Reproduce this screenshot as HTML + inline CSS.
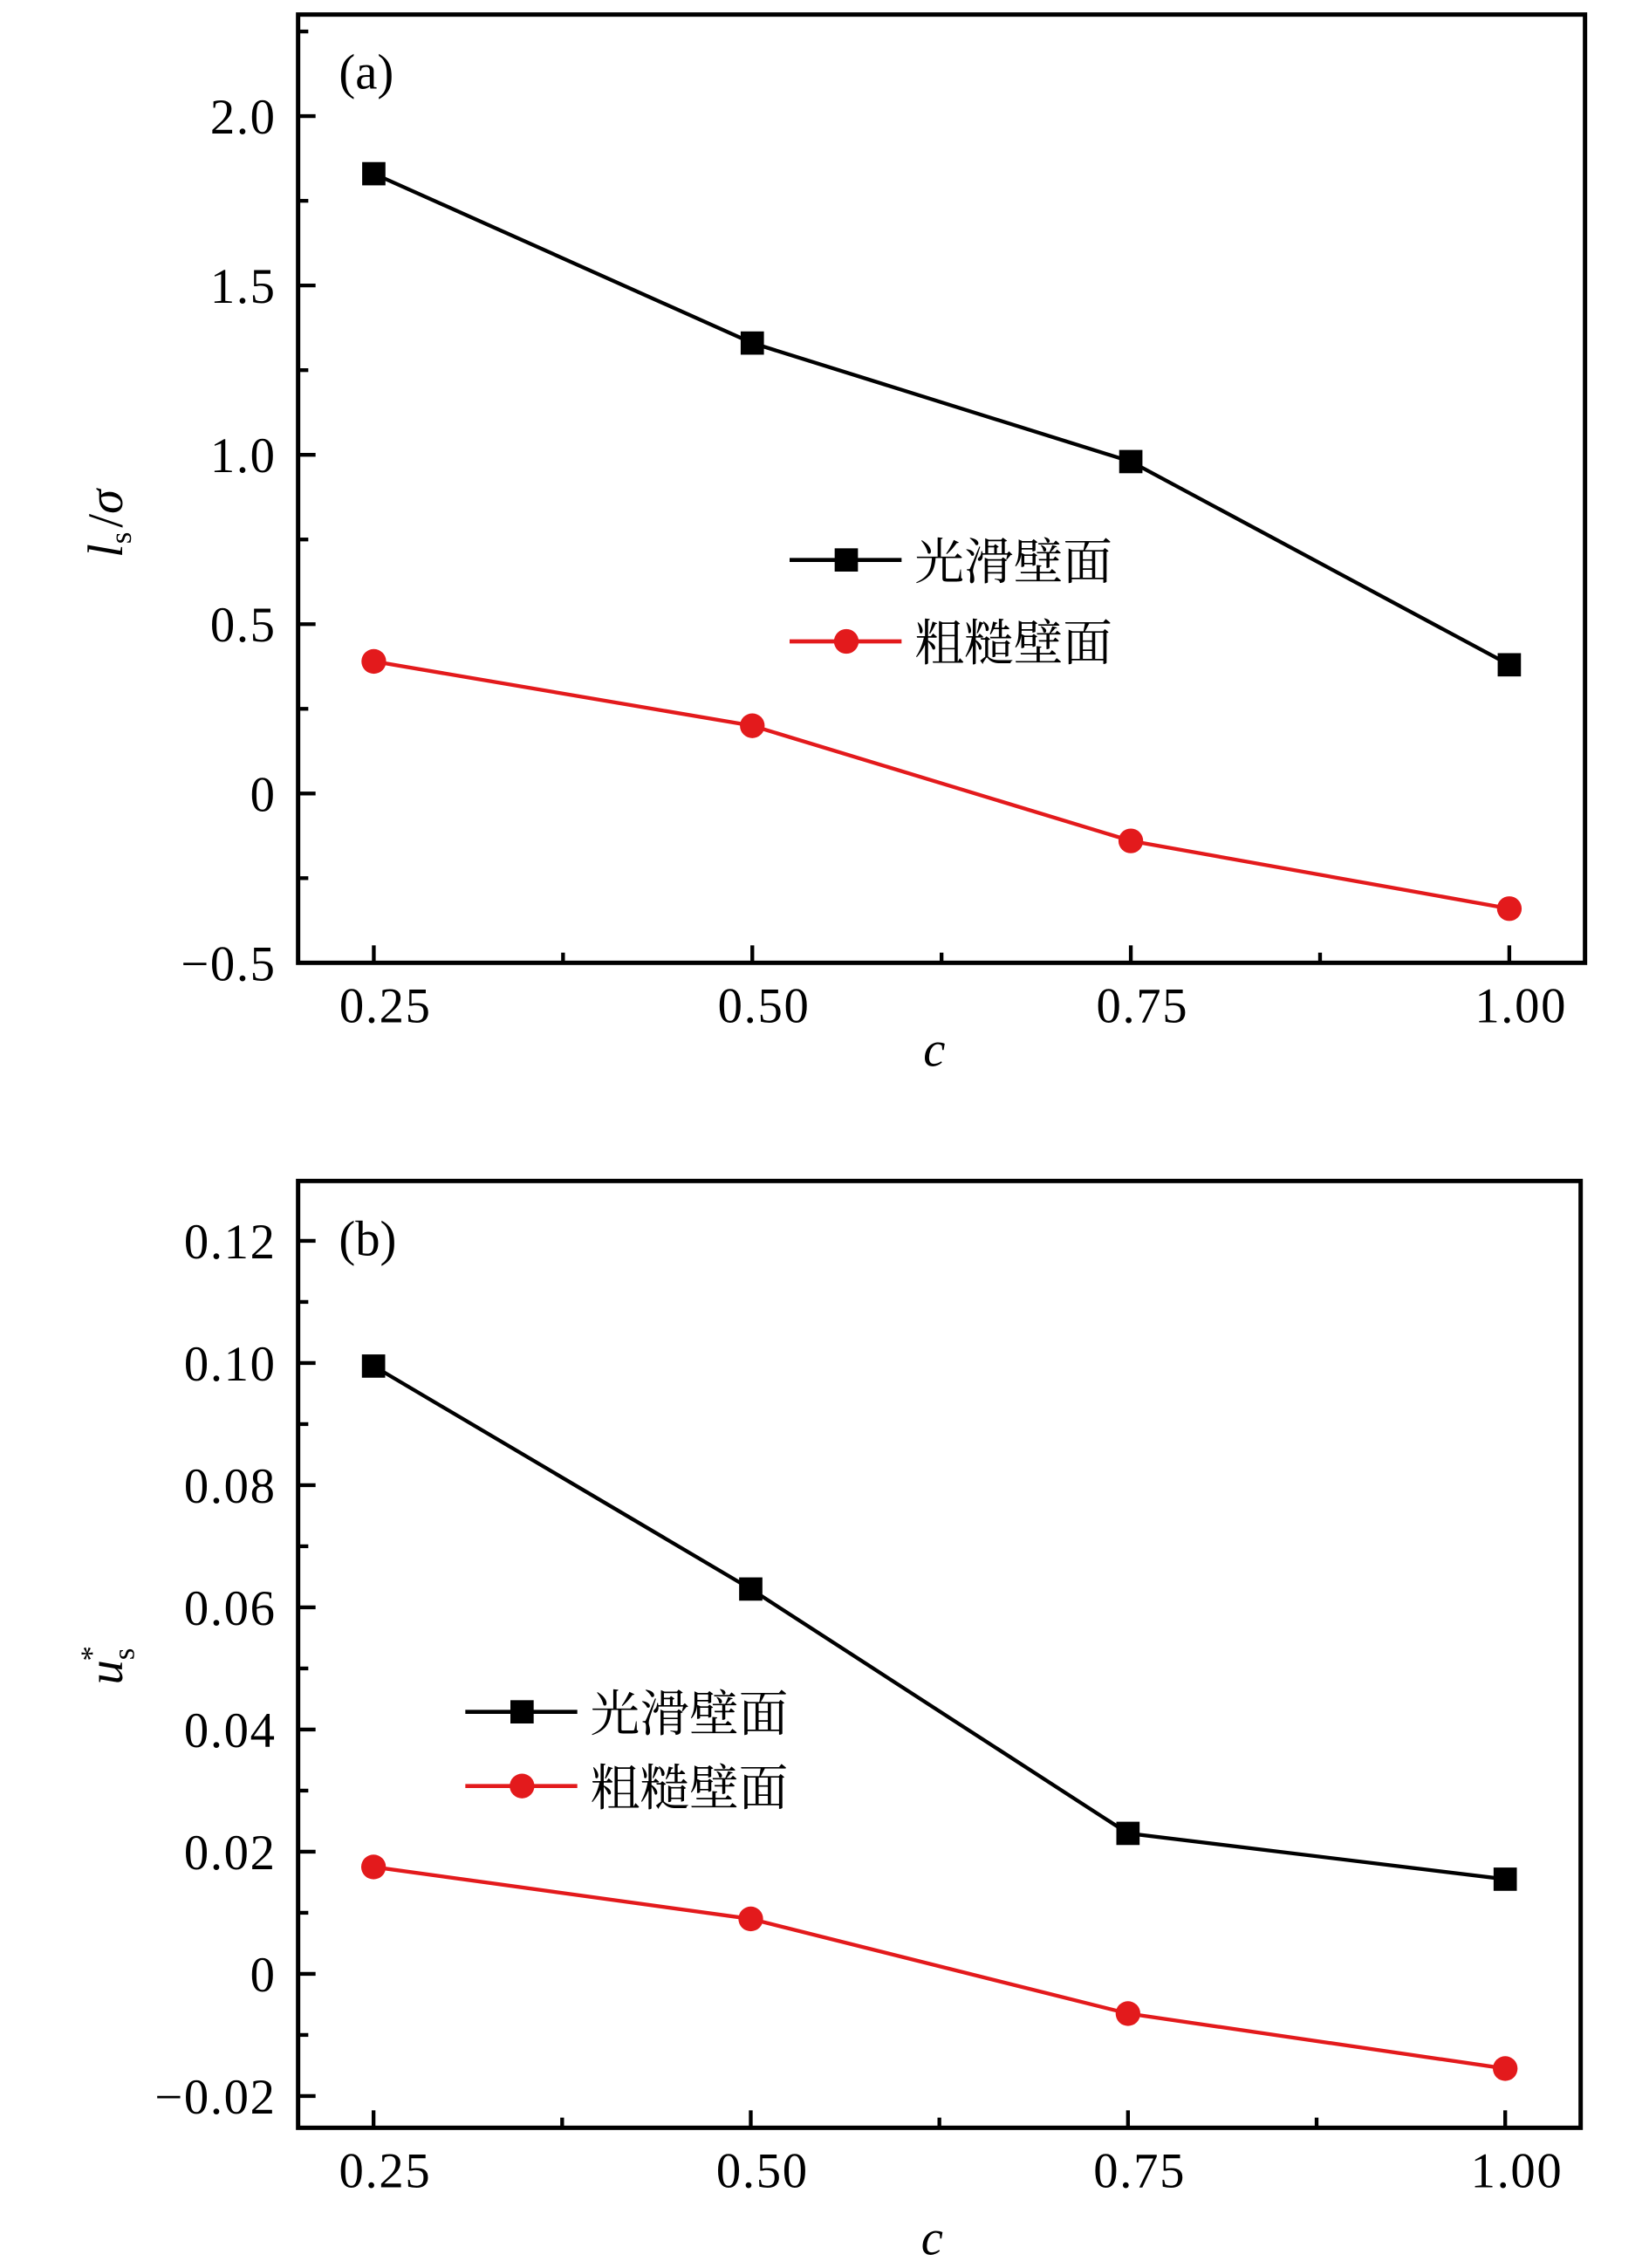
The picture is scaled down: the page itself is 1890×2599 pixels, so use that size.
<!DOCTYPE html>
<html><head><meta charset="utf-8"><style>
html,body{margin:0;padding:0;background:#fff;}
svg{display:block;}
text{font-family:"Liberation Serif","Noto Serif CJK SC",serif;fill:#000;}
</style></head><body>
<svg id="fig" width="1890" height="2599" viewBox="0 0 1134 1559.4" xmlns="http://www.w3.org/2000/svg"></svg>
<script>
const categories = [0.25, 0.50, 0.75, 1.00];
const xTickLabels = ["0.25", "0.50", "0.75", "1.00"];
const seriesNames = ["光滑壁面", "粗糙壁面"];
const aSmooth = [1.83, 1.33, 0.98, 0.38];
const aRough = [0.39, 0.20, -0.14, -0.34];
const aYTicks = [-0.5, 0, 0.5, 1.0, 1.5, 2.0];
const aYTickLabels = ["\u22120.5", "0", "0.5", "1.0", "1.5", "2.0"];
const bSmooth = [0.0995, 0.063, 0.023, 0.0155];
const bRough = [0.0175, 0.009, -0.0065, -0.0155];
const bYTicks = [-0.02, 0, 0.02, 0.04, 0.06, 0.08, 0.10, 0.12];
const bYTickLabels = ["\u22120.02", "0", "0.02", "0.04", "0.06", "0.08", "0.10", "0.12"];

const NS = "http://www.w3.org/2000/svg";
const svg = document.getElementById("fig");
function mk(tag, attrs, parent) {
  const e = document.createElementNS(NS, tag);
  for (const k in attrs) e.setAttribute(k, attrs[k]);
  (parent || svg).appendChild(e);
  return e;
}

function panel(cfg) {
  const g = mk("g", {});
  
  
  const L = cfg.L, R = cfg.R, T = cfg.T, B = cfg.B;
  const sx = v => L + (v - cfg.xmin) / (cfg.xmax - cfg.xmin) * (R - L);
  const sy = v => B - (v - cfg.ymin) / (cfg.ymax - cfg.ymin) * (B - T);
  const frame = mk("rect", {x: L, y: T, width: R - L, height: B - T, fill: "none", stroke: "#000", "stroke-width": 3}, g);
  
  
  categories.forEach((c, i) => {
    const x = sx(c);
    mk("line", {x1: x, x2: x, y1: B, y2: B - 12, stroke: "#000", "stroke-width": 2.6}, g);
    const t = mk("text", {x: x + 8, y: B + 41, "font-size": 34, "letter-spacing": 1, "text-anchor": "middle"}, g);
    t.textContent = xTickLabels[i];
    
    
    if (i < categories.length - 1) {
      const xm = sx(c + 0.125);
      mk("line", {x1: xm, x2: xm, y1: B, y2: B - 7, stroke: "#000", "stroke-width": 2.6}, g);
    }
  });
  cfg.yTicks.forEach((v, i) => {
    const y = sy(v);
    mk("line", {x1: L, x2: L + 12, y1: y, y2: y, stroke: "#000", "stroke-width": 2.6}, g);
    const t = mk("text", {x: L - 15, y: y + 12, "font-size": 34, "letter-spacing": 1, "text-anchor": "end"}, g);
    t.textContent = cfg.yTickLabels[i];
    
    
    const vm = v + cfg.yMinor;
    if (vm < cfg.ymax) {
      const ym = sy(vm);
      mk("line", {x1: L, x2: L + 7, y1: ym, y2: ym, stroke: "#000", "stroke-width": 2.6}, g);
    }
  });
  const series = [{vals: cfg.smooth, color: "#000", m: "sq", nm: "smooth-wall-series"},
                  {vals: cfg.rough, color: "#e31a1c", m: "ci", nm: "rough-wall-series"}];
  series.forEach(s => {
    const pts = s.vals.map((v, i) => sx(categories[i]) + "," + sy(v)).join(" ");
    const pl = mk("polyline", {points: pts, fill: "none", stroke: s.color, "stroke-width": 2.6}, g);
    
    
    s.vals.forEach((v, i) => {
      const x = sx(categories[i]), y = sy(v);
      let e;
      if (s.m === "sq") e = mk("rect", {x: x - 8, y: y - 8, width: 16, height: 16, fill: s.color}, g);
      else e = mk("circle", {cx: x, cy: y, r: 8.5, fill: s.color}, g);
      
      
    });
  });
  [[cfg.legY1, "#000", "sq", 0], [cfg.legY2, "#e31a1c", "ci", 1]].forEach(([y, col, m, k]) => {
    const lg = mk("g", {}, g);
    
    
    mk("line", {x1: cfg.legX, x2: cfg.legX + 77, y1: y, y2: y, stroke: col, "stroke-width": 2.8}, lg);
    const mx = cfg.legX + 39;
    if (m === "sq") mk("rect", {x: mx - 8, y: y - 8, width: 16, height: 16, fill: col}, lg);
    else mk("circle", {cx: mx, cy: y, r: 8.5, fill: col}, lg);
    const t = mk("text", {x: cfg.legX + 86, y: y + 13, "font-size": 34, "font-family": "'Noto Serif CJK SC','Noto Sans CJK SC',serif"}, lg);
    t.textContent = seriesNames[k];
  });
  const pl = mk("text", {x: L + 28, y: T + 51, "font-size": 34}, g);
  pl.textContent = cfg.label;
  
  
  const xt = mk("text", {x: (L + R) / 2 - 5, y: cfg.xTitleY, "font-size": 34, "font-style": "italic", "text-anchor": "middle"}, g);
  xt.textContent = "c";
  
  
  return {g, sx, sy};
}

const pa = panel({name: "chart-a", L: 205, R: 1090, T: 10, B: 662, xmin: 0.2, xmax: 1.05,
  ymin: -0.5, ymax: 2.3, yTicks: aYTicks, yTickLabels: aYTickLabels, yMinor: 0.25,
  smooth: aSmooth, rough: aRough, legX: 543, legY1: 385, legY2: 441, label: "(a)", xTitleY: 733});
const ya = mk("text", {transform: "translate(84,360) rotate(-90)", "font-size": 34, "text-anchor": "middle"}, pa.g);


ya.innerHTML = '<tspan font-style="italic">l</tspan><tspan font-size="21" dy="6">s</tspan><tspan dy="-6" dx="3">/</tspan><tspan font-style="italic">σ</tspan>';

const pb = panel({name: "chart-b", L: 205, R: 1087, T: 812, B: 1463, xmin: 0.2, xmax: 1.05,
  ymin: -0.0252, ymax: 0.1298, yTicks: bYTicks, yTickLabels: bYTickLabels, yMinor: 0.01,
  smooth: bSmooth, rough: bRough, legX: 320, legY1: 1177, legY2: 1228, label: "(b)", xTitleY: 1550});
const yb = mk("text", {transform: "translate(84,1145) rotate(-90)", "font-size": 34, "text-anchor": "middle"}, pb.g);


yb.innerHTML = '<tspan font-style="italic">u</tspan><tspan font-size="21" dy="8">s</tspan><tspan font-size="21" dx="-9" dy="-22">*</tspan>';
</script>
</body></html>
